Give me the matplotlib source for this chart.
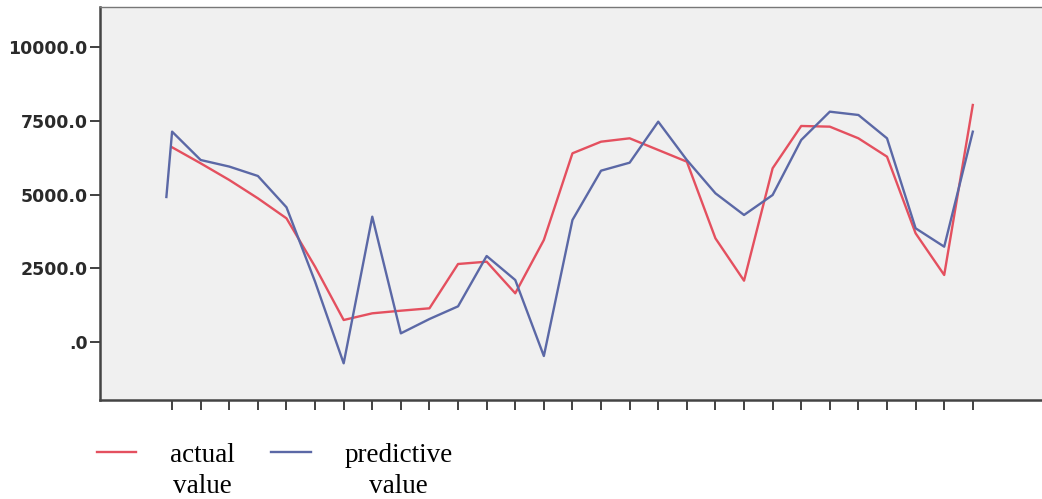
import numpy as np
import matplotlib.pyplot as plt

# observation index (the predicted series starts slightly before the first tick)
idx_actual = list(range(29))
idx_pred = [-0.2] + list(range(29))

actual = [6604, 6060, 5495, 4874, 4195, 2554, 746, 973, 1062, 1143,
          2646, 2724, 1652, 3460, 6400, 6794, 6909, 6513, 6116, 3517,
          2080, 5892, 7327, 7304, 6909, 6286, 3687, 2273, 8039]
predicted = [4918, 7135, 6173, 5950, 5631, 4569, 2045, -723, 4250, 294, 780,
             1210, 2917, 2103, -475, 4138, 5811, 6082, 7473, 6173, 5044,
             4308, 4986, 6852, 7812, 7700, 6909, 3857, 3233, 7134]

yticks = [0, 2500, 5000, 7500, 10000]
ytick_labels = ['.0', '2500.0', '5000.0', '7500.0', '10000.0']

fig = plt.figure(figsize=(10.42, 4.99), dpi=100)
ax = fig.add_axes([0.096, 0.1984, 0.904, 0.7876])
ax.set_facecolor('#f0f0f0')

ax.plot(idx_actual, actual, color='#e4505f', lw=1.7, label='actual\nvalue')
ax.plot(idx_pred, predicted, color='#5b68a6', lw=1.7, label='predictive\nvalue')

ax.set_xlim(-2.52, 30.42)
ax.set_ylim(-1967, 11363)
ax.set_xticks(idx_actual)
ax.set_xticklabels([])
ax.set_yticks(yticks)
ax.set_yticklabels(ytick_labels, fontsize=12.5, fontweight='bold', color='#2a2a2a')
ax.tick_params(axis='both', direction='out', length=7, width=1.3, color='#333333')
ax.tick_params(axis='y', pad=2)

for s in ['left', 'bottom']:
    ax.spines[s].set_linewidth(1.8)
    ax.spines[s].set_color('#444444')
ax.spines['top'].set_linewidth(1.0)
ax.spines['top'].set_color('#777777')
ax.spines['right'].set_visible(False)

leg = fig.legend(loc='upper left', bbox_to_anchor=(0.093, 0.153), ncol=2,
                 frameon=False, borderpad=0, borderaxespad=0,
                 handlelength=1.45, handletextpad=1.25, columnspacing=1.35,
                 handleheight=5.5, labelspacing=0,
                 prop={'family': 'Liberation Serif', 'size': 19.5})
for t in leg.get_texts():
    t.set_multialignment('center')
    t.set_linespacing(1.35)

fig.savefig('out.png', dpi=100)
